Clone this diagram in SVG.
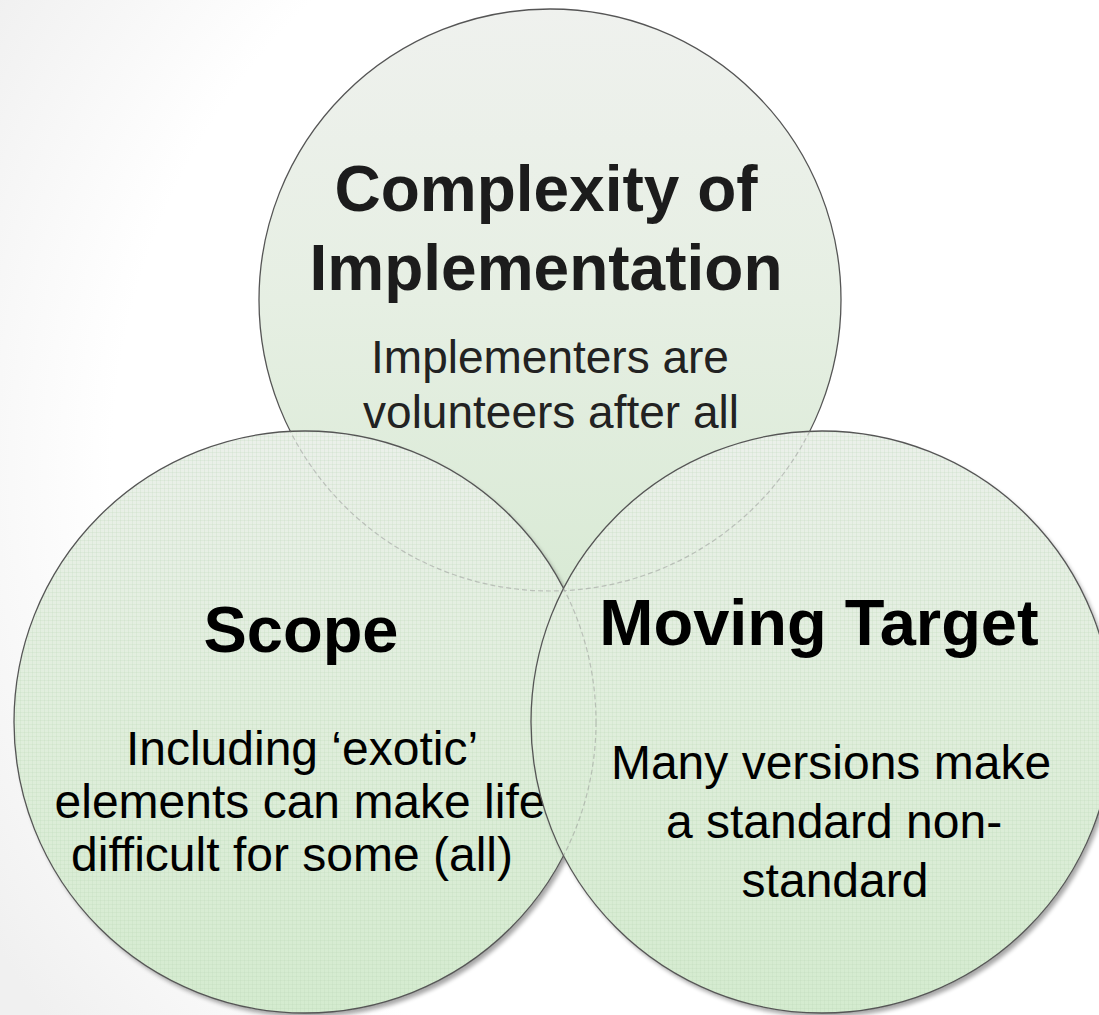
<svg xmlns="http://www.w3.org/2000/svg" width="1099" height="1015" viewBox="0 0 1099 1015">
  <defs>
    <radialGradient id="bg" cx="760" cy="470" r="900" gradientUnits="userSpaceOnUse">
      <stop offset="0.72" stop-color="#ffffff"/>
      <stop offset="1" stop-color="#f0f0f0"/>
    </radialGradient>
    <linearGradient id="topFill" x1="0" y1="0" x2="0" y2="1">
      <stop offset="0" stop-color="#eff1ee"/>
      <stop offset="0.5" stop-color="#e6efe3"/>
      <stop offset="1" stop-color="#d9ead5"/>
    </linearGradient>
    <linearGradient id="botFill" x1="0" y1="0" x2="0" y2="1">
      <stop offset="0" stop-color="#ebf0ea"/>
      <stop offset="0.5" stop-color="#e0eedc"/>
      <stop offset="1" stop-color="#d4ebcf"/>
    </linearGradient>
    <pattern id="grid" width="4" height="4" patternUnits="userSpaceOnUse">
      <path d="M0 0.5 H4 M0.5 0 V4" stroke="#b9d2b3" stroke-width="0.6" stroke-opacity="0.35" fill="none"/>
    </pattern>
    <filter id="shadow" x="-10%" y="-10%" width="125%" height="125%">
      <feGaussianBlur in="SourceAlpha" stdDeviation="2"/>
      <feOffset dx="3" dy="4" result="b"/>
      <feComponentTransfer><feFuncA type="linear" slope="0.35"/></feComponentTransfer>
      <feMerge><feMergeNode/><feMergeNode in="SourceGraphic"/></feMerge>
    </filter>
    <clipPath id="clipLeft"><circle cx="305" cy="722" r="291"/></clipPath>
    <clipPath id="clipRight"><circle cx="822" cy="722" r="291"/></clipPath>
  </defs>
  <style>
    .outline { stroke: #555; stroke-width: 1.3; }
    .ghost { fill: none; stroke: #8a8a8a; stroke-width: 1.2; stroke-opacity: 0.45; stroke-dasharray: 5 3; }
    .title { font-family: "Liberation Sans", Arial, sans-serif; font-weight: bold; fill: #111; text-anchor: middle; }
    .body { font-family: "Liberation Sans", Arial, sans-serif; fill: #111; text-anchor: middle; }
    .topTitle { font-size: 64px; fill: #1c1c1c; }
    .topBody { font-size: 46px; fill: #222; }
    .botTitle { font-size: 65px; fill: #000; }
    .botBody { font-size: 48px; fill: #000; }
  </style>
  <rect width="1099" height="1015" fill="url(#bg)"/>

  <g id="node-complexity">
    <circle cx="550" cy="300" r="291" fill="url(#topFill)" class="outline"/>
    <text class="title topTitle" x="546" y="211">Complexity of</text>
    <text class="title topTitle" x="546" y="290">Implementation</text>
    <text class="body topBody" x="550" y="373">Implementers are</text>
    <text class="body topBody" x="551" y="428">volunteers after all</text>
  </g>

  <g id="node-scope">
    <g filter="url(#shadow)">
      <circle cx="305" cy="722" r="291" fill="url(#botFill)"/>
    </g>
    <circle cx="305" cy="722" r="291" fill="url(#grid)"/>
    <circle cx="305" cy="722" r="291" fill="none" class="outline"/>
    <circle cx="550" cy="300" r="291" class="ghost" clip-path="url(#clipLeft)"/>
    <text class="title botTitle" x="301" y="652">Scope</text>
    <text class="body botBody" x="302" y="765">Including ‘exotic’</text>
    <text class="body botBody" x="300" y="818">elements can make life</text>
    <text class="body botBody" x="292" y="871">difficult for some (all)</text>
  </g>

  <g id="node-moving-target">
    <g filter="url(#shadow)">
      <circle cx="822" cy="722" r="291" fill="url(#botFill)"/>
    </g>
    <circle cx="822" cy="722" r="291" fill="url(#grid)"/>
    <circle cx="822" cy="722" r="291" fill="none" class="outline"/>
    <g clip-path="url(#clipRight)">
      <circle cx="550" cy="300" r="291" class="ghost"/>
      <circle cx="305" cy="722" r="291" class="ghost"/>
    </g>
    <text class="title botTitle" x="819" y="645">Moving Target</text>
    <text class="body botBody" x="831" y="779">Many versions make</text>
    <text class="body botBody" x="834" y="838">a standard non-</text>
    <text class="body botBody" x="835" y="897">standard</text>
  </g>

  <g id="connectors"/>
</svg>
